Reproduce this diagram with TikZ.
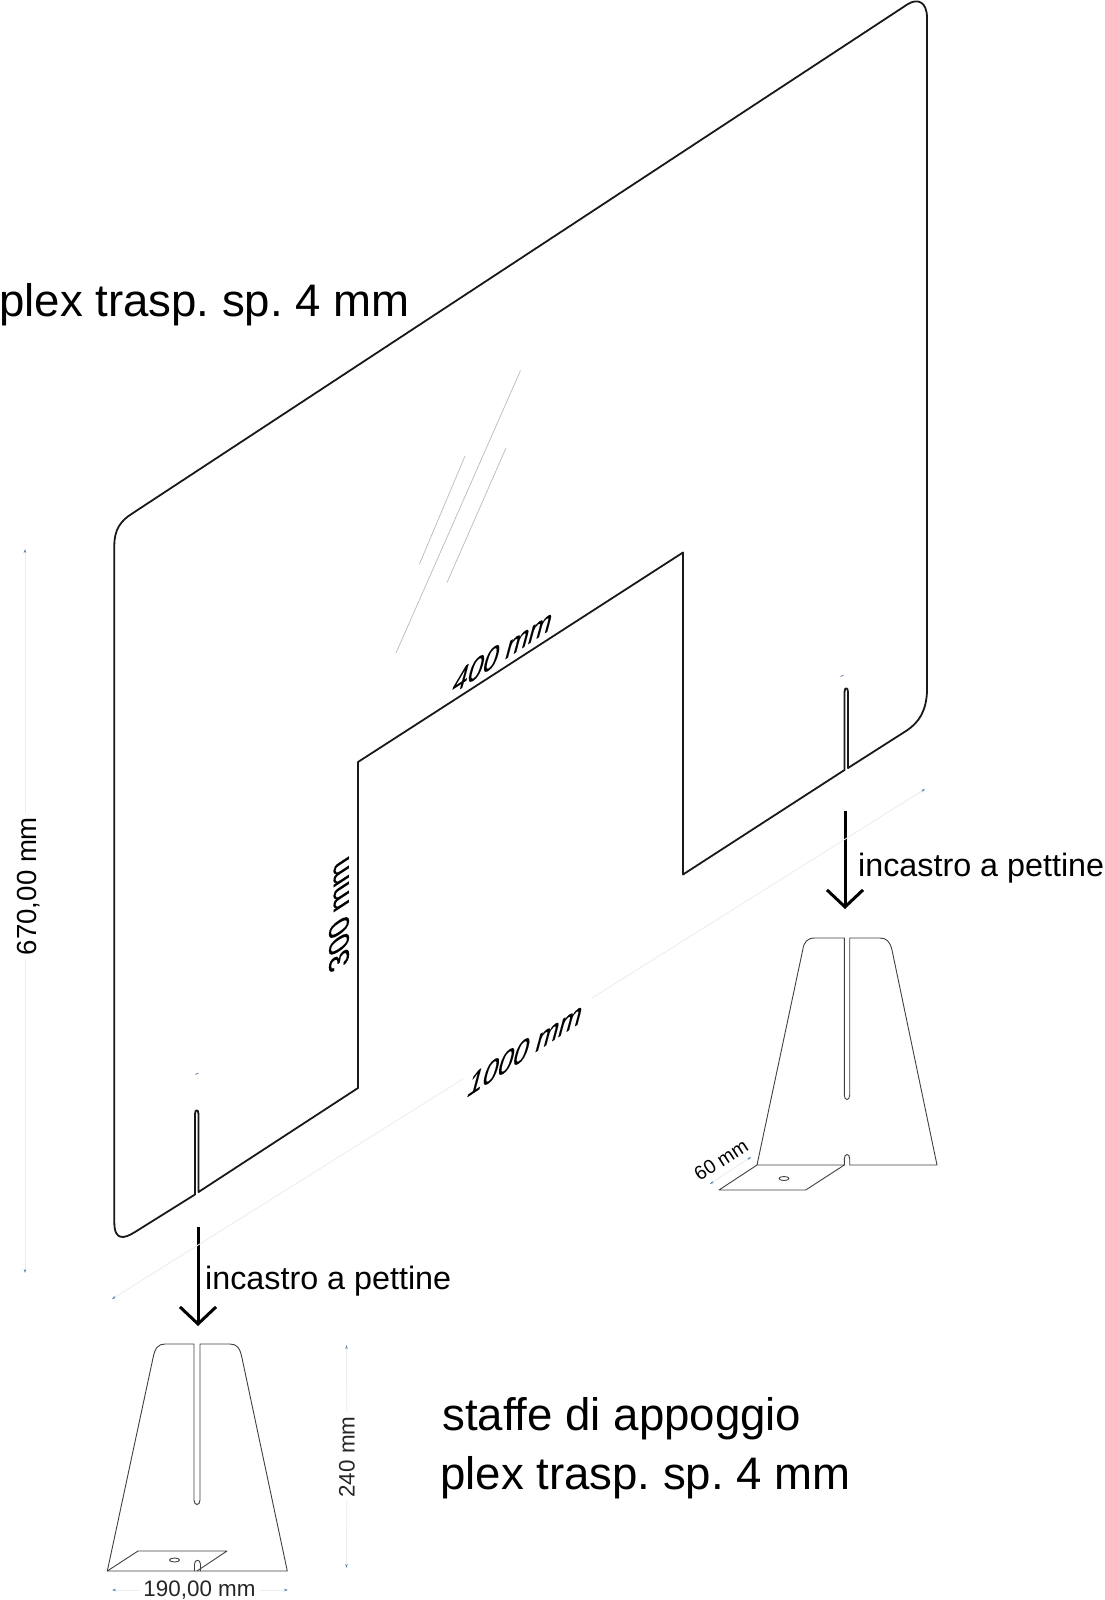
\documentclass[tikz,border=0pt]{standalone}
\usepackage{fontspec}
\setmainfont{Liberation Sans}
\usetikzlibrary{arrows.meta}
\frenchspacing
\definecolor{dimtip}{RGB}{90,130,170}
\tikzset{
    panel/.style={draw=black!90, line width=1.8pt, line join=round},
    bracket/.style={draw=black!75, line width=0.9pt, line join=round},
    shine/.style={draw=gray!55, line width=0.7pt},
    dimline/.style={draw=gray!14, line width=0.9pt},
    dimend/.tip={Stealth[length=4pt,width=2.5pt,color=dimtip]},
    pushline/.style={draw=black, line width=3pt, -{Straight Barb[length=17pt,width=36pt,line width=3pt]}},
    bigtext/.style={inner sep=0pt, anchor=base west, font=\fontsize{45.6}{46}\selectfont},
    midtext/.style={inner sep=0pt, anchor=base west, font=\fontsize{32.3}{32}\selectfont},
    planetext/.style={inner sep=1pt, font=\fontsize{31}{31}\selectfont\addfontfeature{FakeBold=0.2}},
    dimtext/.style={inner sep=4pt, font=\fontsize{22.4}{22}\selectfont, text=black!85}
}
\begin{document}
\begin{tikzpicture}[x=1pt,y=-1pt]
        \useasboundingbox (0,0) rectangle (1104,1600);
        % Outline of the main sheet with the big cut and the two slots
        \draw[panel] (114.3,546) .. controls (114.3,530) and (120,521) .. (133,513)
            -- (908,4) .. controls (918,-2) and (927,2) .. (927,18)
            -- (927,692) .. controls (926,710) and (920,722) .. (906,731)
            -- (848,768) -- (848,692) .. controls (848,687) and (844.5,687) .. (844.5,692)
            -- (844.5,770) -- (683,874.5) -- (683,552.5) -- (358,762) -- (358,1088)
            -- (198.5,1192) -- (198.5,1114) .. controls (198.5,1109) and (195,1109) .. (195,1114)
            -- (195,1194.5) -- (135,1232) .. controls (124,1239) and (114.3,1241) .. (114.3,1222)
            -- cycle;
        % Light streaks on the sheet
        \draw[shine] (520.5,370.5) -- (396,653);
        \draw[shine] (465,456) -- (419.5,564);
        \draw[shine] (506,448) -- (447,582.5);
        % Tiny marks above the slots
        \draw[draw=dimtip, line width=0.8pt] (840.5,676.5) -- (843.5,675);
        \draw[draw=dimtip, line width=0.8pt] (195.5,1074.5) -- (198.5,1073);
        % Bracket under the left slot
        \draw[bracket] (107.3,1571) -- (153,1358) .. controls (155,1348) and (158,1344) .. (165,1344)
            -- (194,1344) -- (194,1500) .. controls (194,1506) and (200,1506) .. (200,1500)
            -- (200,1344) -- (230,1344) .. controls (237,1344) and (240,1348) .. (242,1358)
            -- (287.3,1571) -- cycle;
        \draw[bracket] (107.3,1571) -- (138,1551) -- (227,1551) -- (197,1571);
        \draw[bracket] (194.5,1571) -- (194.5,1564) .. controls (195,1559) and (200,1559) .. (200.5,1564) -- (200.5,1571);
        \draw[bracket] (174.5,1560) ellipse (5 and 2);
        % Bracket under the right slot
        \draw[bracket] (757,1165) -- (802.7,950) .. controls (804,942) and (807,938) .. (815,938)
            -- (844.3,938) -- (844.3,1095) .. controls (844.3,1101) and (849.7,1101) .. (849.7,1095)
            -- (849.7,938) -- (880,938) .. controls (887,938) and (890,942) .. (892,950)
            -- (937,1165) -- (849.7,1165) -- (849.7,1159) .. controls (849.7,1153) and (844.3,1153) .. (844.3,1159)
            -- (844.3,1165) -- cycle;
        \draw[bracket] (757,1165) -- (719,1190) -- (805.7,1190) -- (844.3,1165);
        \draw[bracket] (784,1178.5) ellipse (5 and 2);
        % Push arrows
        \coordinate (pushLeftTop) at (198,1227);
        \coordinate (pushLeftEnd) at (198,1326);
        \coordinate (pushRightTop) at (845,811);
        \coordinate (pushRightEnd) at (845,909);
        \draw[pushline] (pushLeftTop) -- (pushLeftEnd);
        \draw[pushline] (pushRightTop) -- (pushRightEnd);
        % Texts
        \node[bigtext] (sheetLabel) at (-1,316) {plex trasp. sp. 4 mm};
        \node[bigtext] (standLabel) at (442,1430) {staffe di appoggio};
        \node[bigtext] (standPlexLabel) at (440,1489) {plex trasp. sp. 4 mm};
        \node[midtext] (slotRightLabel) at (858,876.5) {incastro a pettine};
        \node[midtext] (slotLeftLabel) at (205,1289) {incastro a pettine};
        \node[planetext, cm={.88,.58,.3,1.12,(0,0)}] (cutWidthLabel) at (503,651) {400 mm};
        \node[planetext, cm={.88,.58,.3,1.12,(0,0)}] (totalWidthLabel) at (525.5,1049) {1000 mm};
        \node[planetext, font=\fontsize{30}{30}\selectfont\addfontfeature{FakeBold=0.2}, cm={0,1,-.95,-.62,(0,0)}] (cutHeightLabel) at (339,915) {300 mm};
        \node[dimtext, rotate=90, font=\fontsize{27.6}{27}\selectfont, text=black] (heightLabel) at (29,886) {670,00 mm};
        \node[dimtext, rotate=90] (standHeightLabel) at (347,1457) {240 mm};
        \node[dimtext] (standWidthLabel) at (199.5,1590) {190,00 mm};
        \node[dimtext, rotate=33, inner sep=0pt, font=\fontsize{19.5}{20}\selectfont, text=black] (standDepthLabel) at (721,1160) {60 mm};
        % Dimension lines
        \coordinate (heightTop) at (25,549);
        \coordinate (heightEnd) at (25,1273);
        \coordinate (longStart) at (112,1299);
        \coordinate (longGapA) at (463,1079);
        \coordinate (longGapB) at (592,998);
        \coordinate (longEnd) at (925,789);
        \coordinate (standTop) at (346.5,1345);
        \coordinate (standEnd) at (346.5,1568);
        \coordinate (baseLeft) at (112,1590);
        \coordinate (baseRight) at (288,1590);
        \coordinate (depthStart) at (710,1184);
        \coordinate (depthEnd) at (751,1157);
        \draw[dimline, {dimend}-] (heightTop) -- (heightTop |- heightLabel.east);
        \draw[dimline, -{dimend}] (heightTop |- heightLabel.west) -- (heightEnd);
        \draw[dimline, {dimend}-] (longStart) -- (longGapA);
        \draw[dimline, -{dimend}] (longGapB) -- (longEnd);
        \draw[dimline, {dimend}-] (standTop) -- (standHeightLabel);
        \draw[dimline, -{dimend}] (standHeightLabel) -- (standEnd);
        \draw[dimline, {dimend}-] (baseLeft) -- (standWidthLabel);
        \draw[dimline, -{dimend}] (standWidthLabel) -- (baseRight);
        \draw[dimline, {dimend}-{dimend}] (depthStart) -- (depthEnd);
    \end{tikzpicture}
\end{document}
